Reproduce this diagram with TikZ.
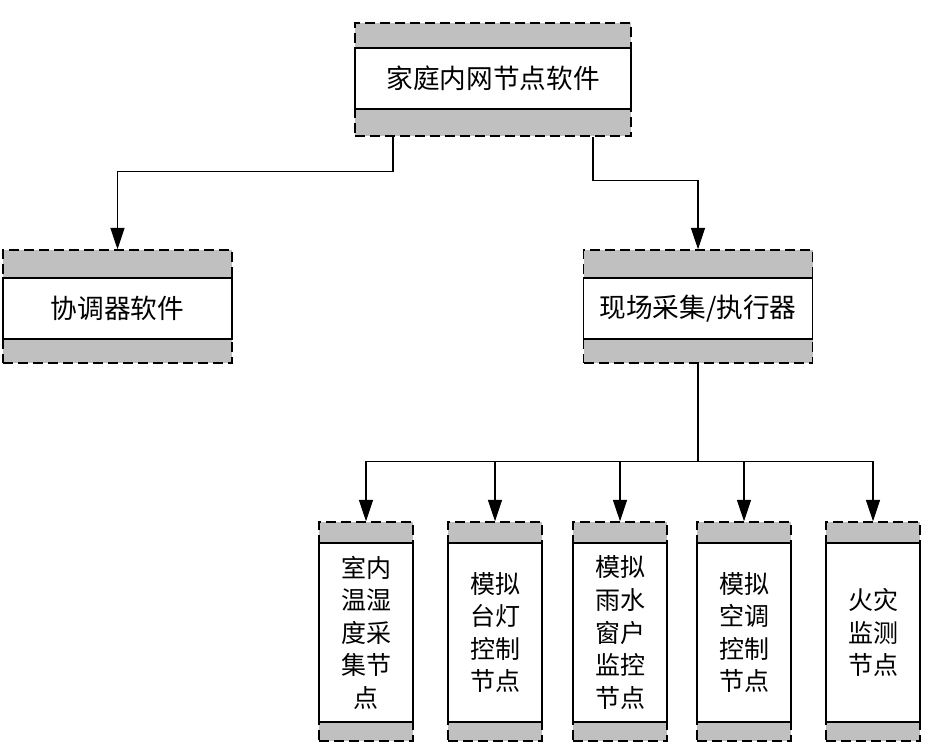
\documentclass[tikz,border=0pt]{standalone}
\usepackage{fontspec}
\newfontfamily\cjk{Noto Sans CJK SC}
\usetikzlibrary{arrows.meta}
\definecolor{boxgray}{RGB}{192,192,192}
\tikzset{
  outerbox/.style={draw, fill=boxgray, line width=1.1pt, dash pattern=on 7.5pt off 3.75pt, inner sep=0pt},
  innerbox/.style={draw, fill=white, line width=1.1pt, inner sep=0pt, align=center},
  bigtext/.style={font=\cjk\fontsize{20}{24}\selectfont},
  smalltext/.style={font=\cjk\fontsize{18.75}{24.4}\selectfont},
  wide/.style={minimum width=171.75pt},
  narrow/.style={minimum width=70.5pt},
  arr/.style={line width=0.8pt, -{Triangle[length=16pt,width=10.5pt]}},
  conn/.style={line width=0.8pt}
}
\begin{document}
\begin{tikzpicture}[x=0.75pt, y=-0.75pt]
\useasboundingbox[fill=white] (0,0) rectangle (927,745);
% top box
\node[outerbox, minimum width=207pt, minimum height=84.75pt] (top) at (493,79.5) {};
\node[innerbox, bigtext, minimum width=207pt, minimum height=45.75pt] (topin) at (493,78.5) {家庭内网节点软件};
% second level
\node[outerbox, wide, minimum height=84.75pt] (coord) at (117.5,306.5) {};
\node[innerbox, bigtext, wide, minimum height=45.75pt] (coordin) at (117.5,308.5) {协调器软件};
\node[outerbox, wide, minimum height=84.75pt] (field) at (698,306.5) {};
\node[innerbox, bigtext, wide, minimum height=45.75pt] (fieldin) at (698,308.5) {现场采集/执行器};
% bottom level
\foreach \n/\x/\t in {b1/366/{室内\\温湿\\度采\\集节\\点},
                      b2/495/{模拟\\台灯\\控制\\节点},
                      b3/620/{模拟\\雨水\\窗户\\监控\\节点},
                      b4/744/{模拟\\空调\\控制\\节点},
                      b5/873/{火灾\\监测\\节点}}{
  \node[outerbox, narrow, minimum height=164.25pt] (\n) at (\x,631.5) {};
  \node[innerbox, smalltext, narrow, minimum height=134.25pt] (\n in) at (\x,632.5) {\t};
}
% connectors
\draw[arr] ([xshift=-75pt]top.south) -- ++(0,35) -| (coord.north);
\draw[arr] ([xshift=75pt]top.south) -- ++(0,44) -| (field.north);
\draw[conn] (field.south) -- ++(0,98) coordinate (hub);
\foreach \n in {b1,b2,b3,b4,b5}{
  \draw[arr] (hub) -| (\n.north);
}
\end{tikzpicture}
\end{document}
